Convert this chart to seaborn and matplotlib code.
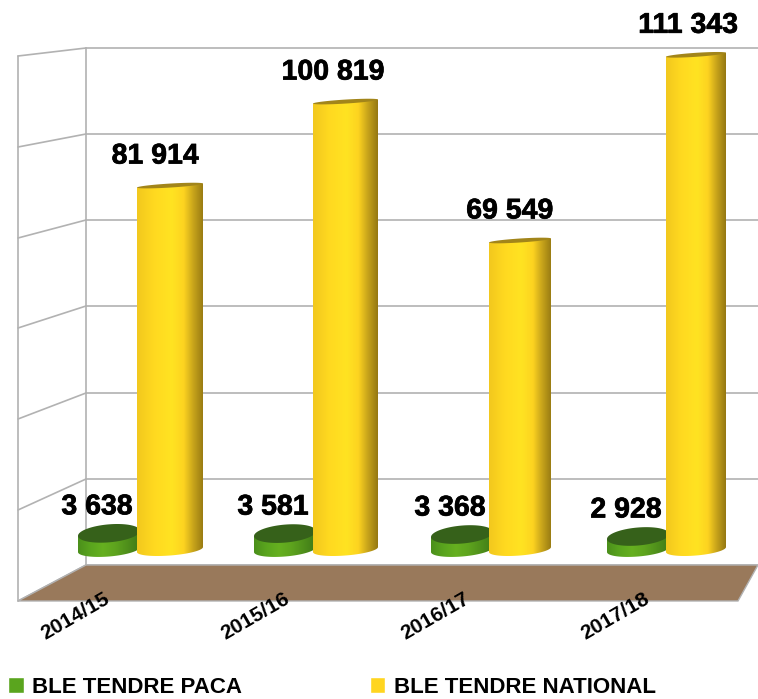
import numpy as np
import pandas as pd
import matplotlib
matplotlib.use("Agg")
import matplotlib.pyplot as plt
import matplotlib.patheffects as pe
from matplotlib.colors import LinearSegmentedColormap
from matplotlib.patches import Polygon
import seaborn as sns

campagnes = ["2014/15", "2015/16", "2016/17", "2017/18"]
ble_paca = [3638, 3581, 3368, 2928]
ble_national = [81914, 100819, 69549, 111343]
serie_names = ["BLE TENDRE PACA", "BLE TENDRE NATIONAL"]
label_paca = ["3 638", "3 581", "3 368", "2 928"]
label_national = ["81 914", "100 819", "69 549", "111 343"]

W, H = 758, 699
PX_PER_UNIT = 0.004443
BASE_PX = 549.5
CAT_X0 = 139.5
CAT_STEP = 176.3

GREEN = "#5aa51e"
YELLOW = "#ffd520"
GRID = "#b2b2b2"

sns.set_theme(style="white")
plt.rcParams["font.family"] = ["Liberation Sans", "DejaVu Sans"]

df = pd.DataFrame({
    "campagne": campagnes * 2,
    "serie": [serie_names[0]] * 4 + [serie_names[1]] * 4,
    "valeur": ble_paca + ble_national,
})

fig = plt.figure(figsize=(W / 100, H / 100), dpi=100)

# walls and floor, in pixels
bg = fig.add_axes([0, 0, 1, 1], zorder=0)
bg.set_xlim(0, W)
bg.set_ylim(H, 0)
bg.axis("off")
back_y = [48, 134, 220, 306, 393, 479, 565]
side_y = [56, 147, 238, 328, 419, 510, 601]
for by, sy in zip(back_y, side_y):
    bg.plot([86, W], [by, by], color=GRID, lw=1.2)
    bg.plot([18, 86], [sy, by], color=GRID, lw=1.2)
bg.plot([18, 18], [56, 601], color=GRID, lw=1.2)
bg.plot([86, 86], [48, 565], color=GRID, lw=1.2)
bg.add_patch(Polygon([(18, 601), (86, 565), (758, 565), (738, 601)], closed=True,
                     facecolor="#99795b", edgecolor=GRID, lw=1, zorder=3))

ax = fig.add_axes([0, 0, 1, 1], zorder=1)
ax.patch.set_alpha(0)
sns.barplot(data=df, x="campagne", y="valeur", hue="serie", order=campagnes,
            hue_order=serie_names, palette=[GREEN, YELLOW], width=0.7,
            dodge=True, legend=True, ax=ax, saturation=1)
leg_handles, leg_labels = ax.get_legend_handles_labels()
ax.get_legend().remove()
ax.set_xlim(-CAT_X0 / CAT_STEP, (W - CAT_X0) / CAT_STEP)
ax.set_ylim((BASE_PX - H) / PX_PER_UNIT, BASE_PX / PX_PER_UNIT)
ax.axis("off")

green_cmap = LinearSegmentedColormap.from_list(
    "g", ["#4b8f1b", "#5aa51e", "#66b020", "#5ea41e", "#4f8f1b", "#3f7a17"])
yellow_cmap = LinearSegmentedColormap.from_list(
    "y", [(0, "#f2c81e"), (0.25, "#ffd920"), (0.52, "#ffe322"), (0.7, "#fdd320"),
          (0.84, "#c9a51b"), (1, "#957812")])
grad = np.linspace(0, 1, 256).reshape(1, -1)
U = 1 / PX_PER_UNIT  # one pixel in data units on y
PX = 1 / CAT_STEP    # one pixel in data units on x


def ellipse(cx, cy, w, minor, tilt, t0=0, t1=2 * np.pi):
    t = np.linspace(t0, t1, 80)
    x = cx + w / 2 * np.cos(t)
    y = cy + (minor * np.sin(t) + tilt / 2 * np.cos(t)) * U
    return np.column_stack([x, y])


def cylinder(bar, cmap, top_col, minor_top, minor_bot, tilt_top, tilt_bot, z):
    x0, w, h = bar.get_x(), bar.get_width(), bar.get_height()
    cx = x0 + w / 2
    bar.set_visible(False)
    # bottom half goes from the right edge through the lowest point to the left edge
    bottom = ellipse(cx, 0, w, -minor_bot, tilt_bot, 0, np.pi)
    top_edge = np.array([[x0, h - tilt_top / 2 * U], [x0 + w, h + tilt_top / 2 * U]])
    outline = np.vstack([bottom, top_edge])
    poly = Polygon(outline, closed=True, transform=ax.transData, facecolor="none", edgecolor="none")
    ax.add_patch(poly)
    im = ax.imshow(grad, cmap=cmap, aspect="auto", extent=[x0, x0 + w, -minor_bot * 2 * U, h + 4 * U],
                   zorder=z, interpolation="bilinear")
    im.set_clip_path(poly)
    ax.add_patch(Polygon(ellipse(cx, h, w, minor_top, tilt_top), closed=True, facecolor=top_col,
                         edgecolor="none", zorder=z + 0.1))


green_bars = ax.containers[0]
yellow_bars = ax.containers[1]
yellow_w = [66, 65, 62, 60]
yellow_left = [137, 313, 489, 666]
green_left = [78, 254, 431, 607]

for i in range(4):
    gb = green_bars[i]
    gb.set_x((green_left[i] - CAT_X0) / CAT_STEP)
    gb.set_width(62 * PX)
    cylinder(gb, green_cmap, "#36611a", 9, 7, 5, 5, 4)
    yb = yellow_bars[i]
    yb.set_x((yellow_left[i] - CAT_X0) / CAT_STEP)
    yb.set_width(yellow_w[i] * PX)
    cylinder(yb, yellow_cmap, "#a2851a", 2, 6, 4, 5, 5)
ax.set_xlim(-CAT_X0 / CAT_STEP, (W - CAT_X0) / CAT_STEP)
ax.set_ylim((BASE_PX - H) / PX_PER_UNIT, BASE_PX / PX_PER_UNIT)

heavy = [pe.withStroke(linewidth=0.5, foreground="black")]

# value labels
for i in range(4):
    ax.annotate(label_national[i], (yellow_bars[i].get_x() + yellow_bars[i].get_width() / 2, ble_national[i]),
                xytext=(-15 + 2.3 * i, 29), textcoords="offset pixels", ha="center", va="center",
                fontsize=20.5, fontweight="bold", color="black", zorder=8, path_effects=heavy)
    ax.annotate(label_paca[i], (green_bars[i].get_x() + green_bars[i].get_width() / 2, ble_paca[i]),
                xytext=(-12, 26), textcoords="offset pixels", ha="center", va="center",
                fontsize=20.5, fontweight="bold", color="black", zorder=8, path_effects=heavy)
    # category labels
    ax.annotate(campagnes[i], (i, 0), xytext=(-64 + 3.7 * i, -67), textcoords="offset pixels",
                ha="center", va="center", rotation=30, rotation_mode="anchor",
                fontsize=15, fontweight="bold", color="black", zorder=8)

fig.legend(leg_handles, leg_labels, loc="lower left", bbox_to_anchor=(-0.0035, -0.014), ncols=2,
           frameon=False, handlelength=0.68, handleheight=0.68, handletextpad=0.4, columnspacing=5.72,
           borderpad=0, labelcolor="black", prop={"family": "Liberation Sans", "weight": "bold", "size": 16})

fig.savefig("out.png", dpi=100)
